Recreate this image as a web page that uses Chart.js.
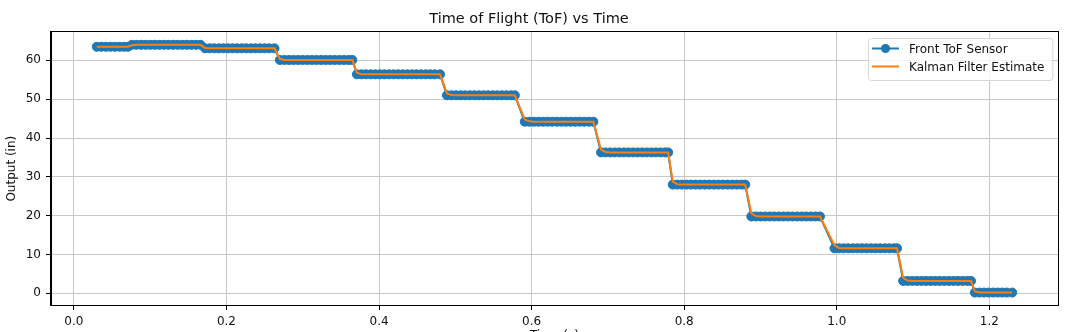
<!DOCTYPE html>
<html lang="en">
<head>
<meta charset="UTF-8">
<title>Time of Flight (ToF) vs Time</title>
<script src="https://cdn.jsdelivr.net/npm/chart.js"></script>
<style>
    html, body { margin: 0; padding: 0; background: #fff; overflow: hidden; }
    #wrap { position: relative; width: 1068px; height: 345px; }
</style>
<script>
    // sample times (s), one line per plateau
    const timeS = [
        0.030, 0.036, 0.042, 0.048, 0.054, 0.060, 0.066, 0.071,
        0.076, 0.082, 0.088, 0.094, 0.100, 0.106, 0.112, 0.118, 0.124, 0.130, 0.136, 0.142, 0.148, 0.154, 0.160, 0.166,
        0.172, 0.178, 0.184, 0.190, 0.196, 0.202, 0.208, 0.214, 0.220, 0.226, 0.232, 0.238, 0.244, 0.250, 0.256, 0.263,
        0.270, 0.276, 0.282, 0.288, 0.294, 0.300, 0.306, 0.312, 0.318, 0.324, 0.330, 0.336, 0.342, 0.348, 0.354, 0.360, 0.365,
        0.371, 0.377, 0.383, 0.389, 0.395, 0.401, 0.407, 0.413, 0.419, 0.425, 0.431, 0.437, 0.443, 0.449, 0.455, 0.461, 0.467, 0.473, 0.480,
        0.489, 0.495, 0.501, 0.507, 0.513, 0.519, 0.525, 0.531, 0.537, 0.543, 0.549, 0.555, 0.561, 0.567, 0.573, 0.578,
        0.591, 0.597, 0.603, 0.609, 0.615, 0.621, 0.627, 0.633, 0.639, 0.645, 0.651, 0.657, 0.663, 0.669, 0.675, 0.681,
        0.691, 0.697, 0.703, 0.709, 0.715, 0.721, 0.727, 0.733, 0.739, 0.745, 0.751, 0.757, 0.763, 0.769, 0.775, 0.779,
        0.785, 0.791, 0.797, 0.803, 0.809, 0.815, 0.821, 0.827, 0.833, 0.839, 0.845, 0.851, 0.857, 0.863, 0.869, 0.875, 0.880,
        0.888, 0.894, 0.900, 0.906, 0.912, 0.918, 0.924, 0.930, 0.936, 0.942, 0.948, 0.954, 0.960, 0.966, 0.972, 0.978,
        0.997, 1.003, 1.009, 1.015, 1.021, 1.027, 1.033, 1.039, 1.045, 1.051, 1.057, 1.063, 1.069, 1.075, 1.079,
        1.087, 1.093, 1.099, 1.105, 1.111, 1.117, 1.123, 1.129, 1.135, 1.141, 1.147, 1.153, 1.159, 1.165, 1.171, 1.176,
        1.181, 1.187, 1.193, 1.199, 1.205, 1.211, 1.217, 1.223, 1.230
    ];

    // raw sensor output (in)
    const frontTof = [
        63.5, 63.5, 63.5, 63.5, 63.5, 63.5, 63.5, 63.5,
        64.0, 64.0, 64.0, 64.0, 64.0, 64.0, 64.0, 64.0, 64.0, 64.0, 64.0, 64.0, 64.0, 64.0, 64.0, 64.0,
        63.1, 63.1, 63.1, 63.1, 63.1, 63.1, 63.1, 63.1, 63.1, 63.1, 63.1, 63.1, 63.1, 63.1, 63.1, 63.1,
        60.1, 60.1, 60.1, 60.1, 60.1, 60.1, 60.1, 60.1, 60.1, 60.1, 60.1, 60.1, 60.1, 60.1, 60.1, 60.1, 60.1,
        56.4, 56.4, 56.4, 56.4, 56.4, 56.4, 56.4, 56.4, 56.4, 56.4, 56.4, 56.4, 56.4, 56.4, 56.4, 56.4, 56.4, 56.4, 56.4,
        51.0, 51.0, 51.0, 51.0, 51.0, 51.0, 51.0, 51.0, 51.0, 51.0, 51.0, 51.0, 51.0, 51.0, 51.0, 51.0,
        44.2, 44.2, 44.2, 44.2, 44.2, 44.2, 44.2, 44.2, 44.2, 44.2, 44.2, 44.2, 44.2, 44.2, 44.2, 44.2,
        36.3, 36.3, 36.3, 36.3, 36.3, 36.3, 36.3, 36.3, 36.3, 36.3, 36.3, 36.3, 36.3, 36.3, 36.3, 36.3,
        28.0, 28.0, 28.0, 28.0, 28.0, 28.0, 28.0, 28.0, 28.0, 28.0, 28.0, 28.0, 28.0, 28.0, 28.0, 28.0, 28.0,
        19.8, 19.8, 19.8, 19.8, 19.8, 19.8, 19.8, 19.8, 19.8, 19.8, 19.8, 19.8, 19.8, 19.8, 19.8, 19.8,
        11.6, 11.6, 11.6, 11.6, 11.6, 11.6, 11.6, 11.6, 11.6, 11.6, 11.6, 11.6, 11.6, 11.6, 11.6,
        3.2, 3.2, 3.2, 3.2, 3.2, 3.2, 3.2, 3.2, 3.2, 3.2, 3.2, 3.2, 3.2, 3.2, 3.2, 3.2,
        0.2, 0.2, 0.2, 0.2, 0.2, 0.2, 0.2, 0.2, 0.2
    ];

    // filtered estimate (in), lags a little at each drop
    const kalmanEst = [
        63.5, 63.5, 63.5, 63.5, 63.5, 63.5, 63.5, 63.5,
        63.9, 64.0, 64.0, 64.0, 64.0, 64.0, 64.0, 64.0, 64.0, 64.0, 64.0, 64.0, 64.0, 64.0, 64.0, 64.0,
        63.2, 63.1, 63.1, 63.1, 63.1, 63.1, 63.1, 63.1, 63.1, 63.1, 63.1, 63.1, 63.1, 63.1, 63.1, 63.1,
        60.4, 60.1, 60.1, 60.1, 60.1, 60.1, 60.1, 60.1, 60.1, 60.1, 60.1, 60.1, 60.1, 60.1, 60.1, 60.1, 60.1,
        56.8, 56.4, 56.4, 56.4, 56.4, 56.4, 56.4, 56.4, 56.4, 56.4, 56.4, 56.4, 56.4, 56.4, 56.4, 56.4, 56.4, 56.4, 56.4,
        51.5, 51.1, 51.0, 51.0, 51.0, 51.0, 51.0, 51.0, 51.0, 51.0, 51.0, 51.0, 51.0, 51.0, 51.0, 51.0,
        44.8, 44.3, 44.2, 44.2, 44.2, 44.2, 44.2, 44.2, 44.2, 44.2, 44.2, 44.2, 44.2, 44.2, 44.2, 44.2,
        37.0, 36.4, 36.3, 36.3, 36.3, 36.3, 36.3, 36.3, 36.3, 36.3, 36.3, 36.3, 36.3, 36.3, 36.3, 36.3,
        28.8, 28.1, 28.0, 28.0, 28.0, 28.0, 28.0, 28.0, 28.0, 28.0, 28.0, 28.0, 28.0, 28.0, 28.0, 28.0, 28.0,
        20.6, 19.9, 19.8, 19.8, 19.8, 19.8, 19.8, 19.8, 19.8, 19.8, 19.8, 19.8, 19.8, 19.8, 19.8, 19.8,
        12.4, 11.7, 11.6, 11.6, 11.6, 11.6, 11.6, 11.6, 11.6, 11.6, 11.6, 11.6, 11.6, 11.6, 11.6,
        4.0, 3.3, 3.2, 3.2, 3.2, 3.2, 3.2, 3.2, 3.2, 3.2, 3.2, 3.2, 3.2, 3.2, 3.2, 3.2,
        0.5, 0.2, 0.2, 0.2, 0.2, 0.2, 0.2, 0.2, 0.2
    ];

    const xTicks = [0.0, 0.2, 0.4, 0.6, 0.8, 1.0, 1.2];
    const yTicks = [0, 10, 20, 30, 40, 50, 60];

    // black box round the plot + matplotlib style legend in the top right corner
    const frameAndLegend = {
        id: 'frameAndLegend',
        afterDraw(chart) {
            const { ctx, chartArea } = chart;
            ctx.save();
            ctx.strokeStyle = '#000';
            ctx.lineWidth = 1;
            ctx.strokeRect(Math.round(chartArea.left) - 0.5, Math.round(chartArea.top) - 0.5,
                Math.round(chartArea.right - chartArea.left) + 1, Math.round(chartArea.bottom - chartArea.top) + 1);

            const sets = chart.data.datasets;
            ctx.font = '12px "DejaVu Sans"';
            let textW = 0;
            sets.forEach(d => { textW = Math.max(textW, ctx.measureText(d.label).width); });
            const w = 4 + 27 + 10 + textW + 8, h = 42;
            const x0 = Math.round(chartArea.right - 6 - w), y0 = Math.round(chartArea.top + 6);

            ctx.beginPath();
            ctx.roundRect(x0 + 0.5, y0 + 0.5, w, h, 3);
            ctx.fillStyle = 'rgba(255,255,255,0.8)';
            ctx.fill();
            ctx.strokeStyle = '#d6d6d6';
            ctx.stroke();

            sets.forEach((d, i) => {
                const cy = y0 + 10.5 + i * 18;
                ctx.strokeStyle = d.borderColor;
                ctx.lineWidth = d.borderWidth;
                ctx.beginPath();
                ctx.moveTo(x0 + 4, cy);
                ctx.lineTo(x0 + 31, cy);
                ctx.stroke();
                if (d.pointRadius > 0) {
                    ctx.fillStyle = d.pointBackgroundColor;
                    ctx.beginPath();
                    ctx.arc(x0 + 17.5, cy, d.pointRadius, 0, Math.PI * 2);
                    ctx.fill();
                }
                ctx.fillStyle = '#111';
                ctx.textAlign = 'left';
                ctx.textBaseline = 'middle';
                ctx.fillText(d.label, x0 + 41, cy + 1);
            });
            ctx.restore();
        }
    };

    function toPoints(ys) {
        return timeS.map((t, i) => ({ x: t, y: ys[i] }));
    }

    window.onload = function() {
        Chart.defaults.font.family = '"DejaVu Sans", sans-serif';
        Chart.defaults.font.size = 12;
        Chart.defaults.color = '#111';

        const ctx = document.getElementById('tofChart').getContext('2d');
        new Chart(ctx, {
            type: 'line',
            data: {
                datasets: [{
                    label: 'Front ToF Sensor',
                    data: toPoints(frontTof),
                    borderColor: '#1f77b4',
                    backgroundColor: '#1f77b4',
                    pointBackgroundColor: '#1f77b4',
                    pointBorderColor: '#1f77b4',
                    borderWidth: 2,
                    pointRadius: 4.5,
                    pointBorderWidth: 1,
                    tension: 0,
                    order: 2
                }, {
                    label: 'Kalman Filter Estimate',
                    data: toPoints(kalmanEst),
                    borderColor: '#ff7f0e',
                    backgroundColor: '#ff7f0e',
                    borderWidth: 2,
                    pointRadius: 0,
                    tension: 0,
                    order: 1
                }]
            },
            options: {
                responsive: true,
                maintainAspectRatio: false,
                animation: false,
                layout: { padding: { left: 0, right: 10, top: 0, bottom: 0 } },
                plugins: {
                    legend: { display: false },
                    tooltip: { enabled: false },
                    title: {
                        display: true,
                        text: 'Time of Flight (ToF) vs Time',
                        font: { size: 14.5, weight: 'normal' },
                        color: '#111',
                        padding: { top: 11, bottom: 4 }
                    }
                },
                scales: {
                    x: {
                        type: 'linear',
                        min: -0.03,
                        max: 1.29,
                        afterBuildTicks: s => { s.ticks = xTicks.map(v => ({ value: v })); },
                        afterFit: s => { s.height = 40; },
                        ticks: {
                            padding: 5,
                            maxRotation: 0,
                            callback: v => v.toFixed(1)
                        },
                        grid: { color: '#c8c8c8', tickColor: '#000', tickLength: 5, lineWidth: 1 },
                        border: { display: true, color: '#000' },
                        title: { display: true, text: 'Time (s)', padding: { top: 4, bottom: 2 } }
                    },
                    y: {
                        min: -3.0,
                        max: 67.2,
                        afterBuildTicks: s => { s.ticks = yTicks.map(v => ({ value: v })); },
                        afterFit: s => { s.width = 51; },
                        ticks: { padding: 5 },
                        grid: { color: '#c8c8c8', tickColor: '#000', tickLength: 5, lineWidth: 1 },
                        border: { display: true, color: '#000' },
                        title: { display: true, text: 'Output (in)', padding: { top: 5, bottom: 4 } }
                    }
                }
            },
            plugins: [frameAndLegend]
        });
    };
</script>
</head>
<body>
    <div id="wrap">
        <canvas id="tofChart"></canvas>
    </div>
</body>
</html>
